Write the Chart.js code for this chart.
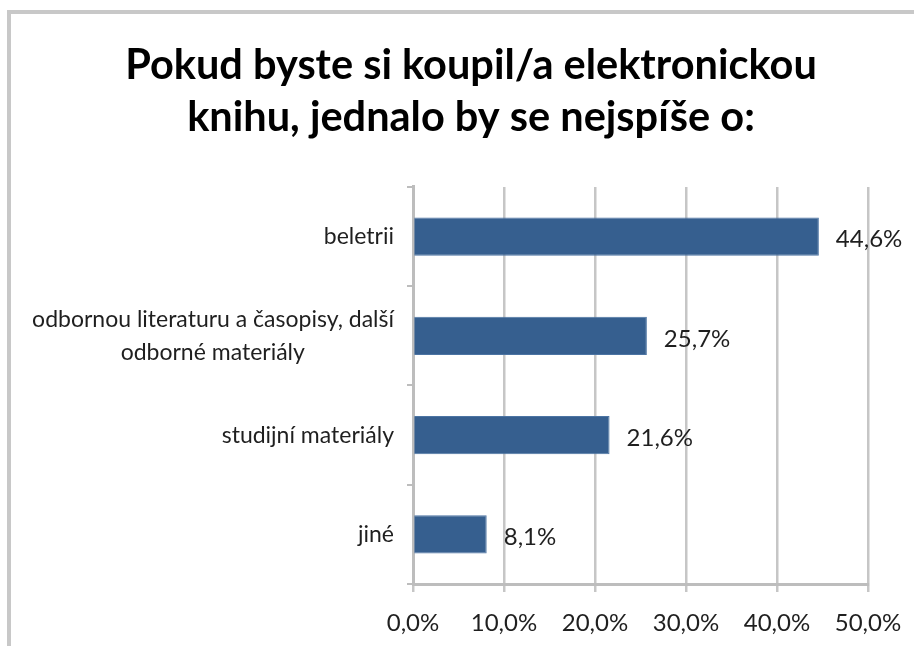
<!DOCTYPE html>
<html><head><meta charset="utf-8">
<script src="https://cdn.jsdelivr.net/npm/chart.js@4/dist/chart.umd.min.js"></script>
<style>
html,body{margin:0;padding:0;background:#fff;}
#frame{position:absolute;left:7px;top:10px;width:907px;height:636px;border-top:4px solid #c8c8c8;border-left:4px solid #c8c8c8;box-sizing:border-box;}
#wrap{position:absolute;left:0;top:0;width:914px;height:646px;}
</style></head><body>
<div id="frame"></div>
<div id="wrap"><canvas id="c" width="914" height="646"></canvas></div>
<script>
const titleLines = ['Pokud byste si koupil/a elektronickou', 'knihu, jednalo by se nejspíše o:'];
const categories = ['beletrii', ['odbornou literaturu a časopisy, další', 'odborné materiály'], 'studijní materiály', 'jiné'];
const values = [44.6, 25.7, 21.6, 8.1];
const xTickValues = [0, 10, 20, 30, 40, 50];
const xTickLabels = ['0,0%', '10,0%', '20,0%', '30,0%', '40,0%', '50,0%'];

const FONT = 'Lato';
const TXT = '#1f1f1f';
const catFont = '23px ' + FONT;
const numFont = '24px ' + FONT;

function fmt(v){ return v.toFixed(1).replace('.', ',') + '%'; }

function centerPad(lines, font){
  const m = document.createElement('canvas').getContext('2d');
  m.font = font;
  const w = lines.map(l => m.measureText(l).width);
  const max = Math.max(...w);
  const sp = m.measureText('\u2009').width || 3;
  return lines.map((l, i) => l + '\u2009'.repeat(Math.round((max - w[i]) / 2 / sp)));
}
const displayCategories = categories.map(c => Array.isArray(c) ? centerPad(c, catFont) : c);

const valueLabels = {
  id: 'valueLabels',
  afterDatasetsDraw(chart){
    const ctx = chart.ctx;
    const meta = chart.getDatasetMeta(0);
    ctx.save();
    ctx.font = numFont;
    ctx.fillStyle = TXT;
    ctx.textAlign = 'left';
    ctx.textBaseline = 'middle';
    meta.data.forEach((bar, i) => {
      ctx.fillText(fmt(values[i]), bar.x + 17, bar.y + 3);
    });
    ctx.restore();
  }
};

new Chart(document.getElementById('c'), {
  type: 'bar',
  data: {
    labels: displayCategories,
    datasets: [{
      data: values,
      xAxisID: 'x',
      yAxisID: 'y',
      backgroundColor: '#365f8f',
      borderColor: '#4c74a3',
      borderWidth: 1,
      barPercentage: 0.385,
      categoryPercentage: 1
    }]
  },
  plugins: [valueLabels],
  options: {
    indexAxis: 'y',
    responsive: false,
    animation: false,
    devicePixelRatio: 1,
    layout: { padding: { left: 28, right: 0, top: 0, bottom: 0 } },
    plugins: {
      legend: { display: false },
      tooltip: { enabled: false },
      title: {
        display: true,
        text: titleLines,
        color: '#000',
        font: { family: FONT, size: 41.5, weight: 'bold', lineHeight: 1.24 },
        padding: { top: 40, bottom: 44 }
      }
    },
    scales: {
      x: {
        type: 'linear',
        position: 'bottom',
        min: 0, max: 50,
        afterBuildTicks: s => { s.ticks = xTickValues.map(v => ({ value: v })); },
        ticks: {
          callback: v => xTickLabels[xTickValues.indexOf(v)],
          font: { family: FONT, size: 24 },
          color: TXT,
          padding: 17
        },
        grid: { color: '#c6c6c6', lineWidth: 2.5, tickLength: 8, drawTicks: true },
        border: { color: '#bdbdbd', width: 3 },
        afterFit: s => { s.height = 62; s.paddingLeft = 0; s.paddingRight = 0; }
      },
      y: {
        type: 'category',
        position: 'left',
        grid: { display: true, drawOnChartArea: false, color: '#bdbdbd', lineWidth: 2, tickLength: 6, offset: true },
        border: { color: '#bdbdbd', width: 3 },
        ticks: { font: { family: FONT, size: 23, lineHeight: 1.45 }, color: TXT, padding: 13 },
        afterFit: s => { s.width = 385; }
      },
      yRight: {
        type: 'linear',
        position: 'right',
        display: true,
        grid: { display: false },
        border: { display: false },
        ticks: { display: false },
        afterFit: s => { s.width = 46; }
      }
    }
  }
});
</script>
</body></html>
